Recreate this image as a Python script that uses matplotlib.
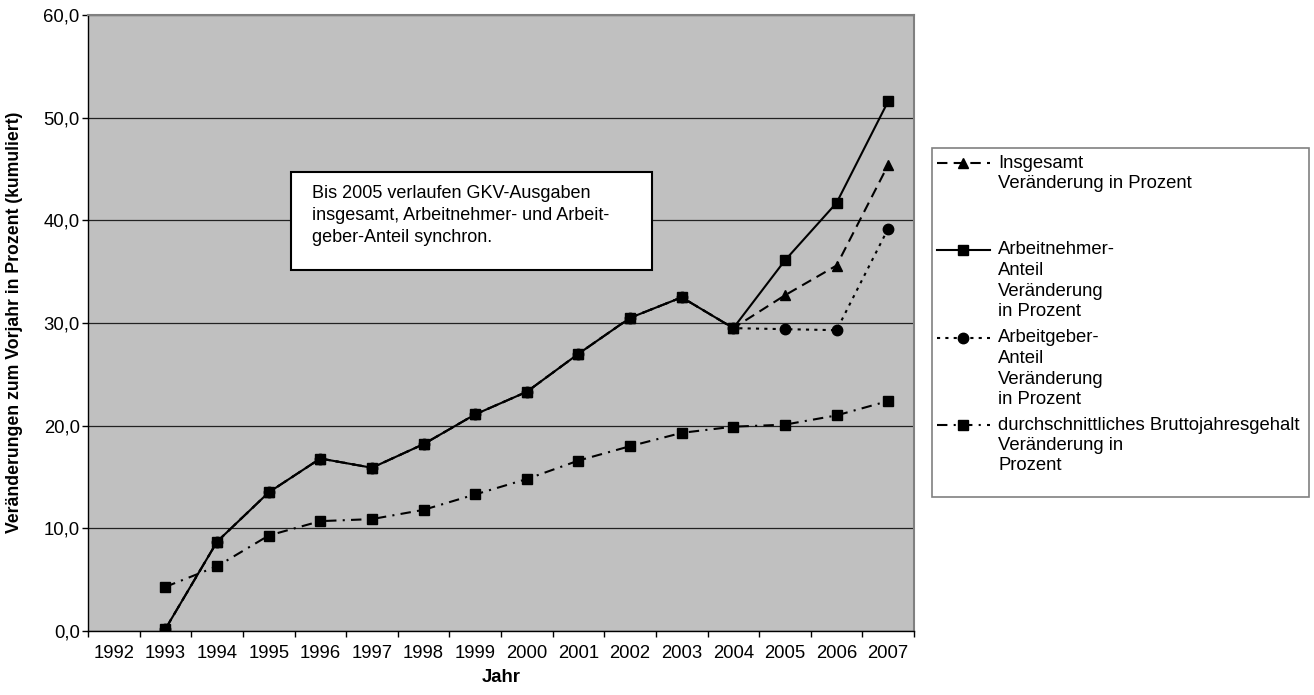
import numpy as np
import matplotlib
matplotlib.use("Agg")
import matplotlib.pyplot as plt
from matplotlib.lines import Line2D
from matplotlib.patches import Rectangle
from matplotlib.ticker import FuncFormatter

plt.rcParams['font.family'] = ['Liberation Sans', 'DejaVu Sans']

# Daten (kumulierte Veränderung zum Vorjahr in Prozent)
jahre = [str(j) for j in range(1992, 2008)]
nan = np.nan
insgesamt = [nan, 0.2, 8.7, 13.5, 16.8, 15.9, 18.2, 21.1, 23.3, 27.0, 30.5, 32.5, 29.5, 32.7, 35.6, 45.4]
arbeitnehmer = [nan, 0.2, 8.7, 13.5, 16.8, 15.9, 18.2, 21.1, 23.3, 27.0, 30.5, 32.5, 29.5, 36.1, 41.7, 51.6]
arbeitgeber = [nan, 0.2, 8.7, 13.5, 16.8, 15.9, 18.2, 21.1, 23.3, 27.0, 30.5, 32.5, 29.5, 29.4, 29.3, 39.2]
brutto = [nan, 4.3, 6.3, 9.3, 10.7, 10.9, 11.8, 13.3, 14.8, 16.6, 18.0, 19.3, 19.9, 20.1, 21.0, 22.4]

legend_texts = [
    ["Insgesamt", "Veränderung in Prozent"],
    ["Arbeitnehmer-", "Anteil", "Veränderung", "in Prozent"],
    ["Arbeitgeber-", "Anteil", "Veränderung", "in Prozent"],
    ["durchschnittliches Bruttojahresgehalt", "Veränderung in", "Prozent"],
]
note_lines = ["Bis 2005 verlaufen GKV-Ausgaben",
              "insgesamt, Arbeitnehmer- und Arbeit-",
              "geber-Anteil synchron."]

fs = 13.3
W, H = 1314, 695
fig = plt.figure(figsize=(W / 100, H / 100), dpi=100)
ax = fig.add_axes([88 / W, 1 - 631 / H, 826 / W, 616 / H])
ax.set_facecolor("#C0C0C0")

x = np.arange(len(jahre))
styles = [
    dict(ls=(0, (5, 3)), marker="^", ms=7.5),
    dict(ls="-", marker="s", ms=7.5),
    dict(ls=(0, (1.5, 2.5)), marker="o", ms=7.5),
    dict(ls=(0, (5, 3, 1, 3)), marker="s", ms=7.5),
]
series = [insgesamt, arbeitnehmer, arbeitgeber, brutto]
zorders = [3, 5, 4, 3]
for s, st, z in zip(series, styles, zorders):
    ax.plot(x, s, color="black", lw=1.5, mec="black", mfc="black", zorder=z, **st)

ax.set_xlim(-0.5, len(jahre) - 0.5)
ax.set_ylim(0, 60)
ax.set_xticks(x)
ax.set_xticklabels(jahre, fontsize=fs)
ax.set_xticks(np.arange(-0.5, len(jahre)), minor=True)
ax.tick_params(axis="x", which="major", length=0, pad=10)
ax.tick_params(axis="x", which="minor", length=4, width=1, direction="out")
ax.set_yticks(np.arange(0, 61, 10))
ax.yaxis.set_major_formatter(FuncFormatter(lambda v, p: f"{v:.1f}".replace(".", ",")))
ax.tick_params(axis="y", labelsize=fs, length=4, width=1, pad=2)
ax.grid(axis="y", color="#222222", lw=0.9)
ax.set_axisbelow(True)
for side in ["top", "right"]:
    ax.spines[side].set_color("#808080")
    ax.spines[side].set_linewidth(1.5)
for side in ["left", "bottom"]:
    ax.spines[side].set_color("black")
    ax.spines[side].set_linewidth(1)

fig.text(501 / W, 1 - 678 / H, "Jahr", ha="center", va="center", fontsize=fs, fontweight="bold")
fig.text(15 / W, 1 - 322 / H, "Veränderungen zum Vorjahr in Prozent (kumuliert)", rotation=90,
         ha="center", va="center", fontsize=12.7, fontweight="bold")

# Textfeld
fig.patches.append(Rectangle((291 / W, 1 - 270 / H), 361 / W, 98 / H, transform=fig.transFigure,
                             facecolor="white", edgecolor="black", lw=1.5, zorder=6))
for i, line in enumerate(note_lines):
    fig.text(312 / W, 1 - (194 + i * 21.7) / H, line, ha="left", va="center", fontsize=13, zorder=7)

# Legende
fig.patches.append(Rectangle((932 / W, 1 - 497 / H), 377 / W, 349 / H, transform=fig.transFigure,
                             facecolor="white", edgecolor="#808080", lw=1.2, zorder=1))
entry_y = [163, 250, 338, 425]
for lines, st, ey in zip(legend_texts, styles, entry_y):
    fig.lines.append(Line2D([937 / W, 963 / W, 990 / W], [1 - ey / H] * 3, transform=fig.transFigure,
                            color="black", lw=1.5, mfc="black", mec="black", markevery=[1], **st))
    for j, line in enumerate(lines):
        fig.text(998 / W, 1 - (ey + j * 20.5) / H, line, ha="left", va="center", fontsize=fs)

fig.savefig("out.png", dpi=100)
